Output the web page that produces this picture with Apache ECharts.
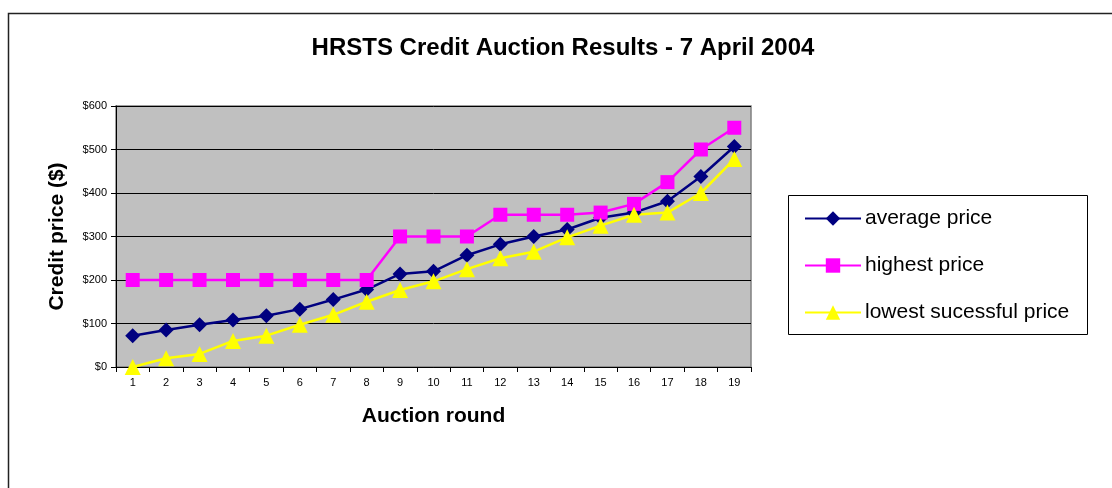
<!DOCTYPE html>
<html>
<head>
<meta charset="utf-8">
<script src="https://cdn.jsdelivr.net/npm/echarts@6/dist/echarts.min.js"></script>
<style>
  html, body { margin: 0; padding: 0; background: #fff; }
  #chart { width: 1112px; height: 488px; }
</style>
</head>
<body>
<div id="chart"></div>
<script>
const rounds = ["1", "2", "3", "4", "5", "6", "7", "8", "9", "10", "11", "12", "13", "14", "15", "16", "17", "18", "19"];
const averagePrice = [72, 85, 97, 108, 118, 133, 155, 178, 214, 220, 257, 282, 300, 316, 343, 355, 381, 438, 507];
const highestPrice = [200, 200, 200, 200, 200, 200, 200, 200, 300, 300, 300, 350, 350, 350, 355, 375, 425, 500, 550];
const lowestPrice = [0, 20, 30, 60, 72, 97, 120, 150, 177, 197, 225, 250, 265, 298, 325, 350, 355, 400, 478];
const yTicks = [0, 100, 200, 300, 400, 500, 600];

const chart = echarts.init(document.getElementById("chart"));
const font = "Arial, 'Liberation Sans', sans-serif";

function lineSeries(name, data, color, symbol, size) {
  return {
    name: name,
    type: "line",
    data: data,
    symbol: symbol,
    symbolSize: size,
    lineStyle: { color: color, width: 2.5 },
    itemStyle: { color: color },
    emphasis: { disabled: true },
  };
}

chart.setOption({
  animation: false,
  textStyle: { fontFamily: font },
  title: {
    text: "HRSTS Credit Auction Results - 7 April 2004",
    left: 558,
    textAlign: "center",
    top: 31,
    textStyle: { fontFamily: font, fontSize: 24, fontWeight: "bold", color: "#000" },
  },
  legend: {
    orient: "vertical",
    left: 804,
    top: 208,
    itemGap: 26,
    itemWidth: 56,
    itemHeight: 18,
    padding: 0,
    textStyle: { fontFamily: font, fontSize: 21, color: "#000", padding: [0, 0, 0, -1] },
    data: ["average price", "highest price", "lowest sucessful price"],
  },
  grid: { left: 116, right: 361, top: 106, bottom: 121, show: true, backgroundColor: "#c0c0c0", borderColor: "#808080", borderWidth: 1.5 },
  xAxis: {
    type: "category",
    data: rounds,
    boundaryGap: true,
    name: "Auction round",
    nameLocation: "middle",
    nameGap: 39,
    nameTextStyle: { fontFamily: font, fontSize: 21, fontWeight: "bold", color: "#000" },
    axisLine: { lineStyle: { color: "#000", width: 1 } },
    axisTick: { show: true, length: 5, lineStyle: { color: "#000" } },
    axisLabel: { fontFamily: font, fontSize: 11, color: "#000", margin: 10 },
    splitLine: { show: false },
  },
  yAxis: {
    type: "value",
    min: yTicks[0],
    max: yTicks[yTicks.length - 1],
    interval: 100,
    name: "Credit price ($)",
    nameLocation: "middle",
    nameGap: 48,
    nameRotate: 90,
    nameTextStyle: { fontFamily: font, fontSize: 21, fontWeight: "bold", color: "#000" },
    axisLine: { show: true, lineStyle: { color: "#000", width: 1 } },
    axisTick: { show: true, length: 5, lineStyle: { color: "#000" } },
    axisLabel: { fontFamily: font, fontSize: 11, color: "#000", margin: 9, formatter: (v) => "$" + v },
    splitLine: { show: true, lineStyle: { color: "#000", width: 1 } },
  },
  series: [
    lineSeries("average price", averagePrice, "#000080", "diamond", 15),
    lineSeries("highest price", highestPrice, "#ff00ff", "rect", 14),
    lineSeries("lowest sucessful price", lowestPrice, "#ffff00", "triangle", 16),
  ],
  // outer chart frame and legend frame
  graphic: [
    {
      type: "rect",
      shape: { x: 8.5, y: 13.5, width: 1120, height: 500 },
      style: { fill: null, stroke: "#222", lineWidth: 1.5 },
      silent: true,
    },
    {
      type: "rect",
      shape: { x: 788.5, y: 195.5, width: 299, height: 139 },
      style: { fill: null, stroke: "#000", lineWidth: 1 },
      silent: true,
      z: -1,
    },
  ],
});
</script>
</body>
</html>
